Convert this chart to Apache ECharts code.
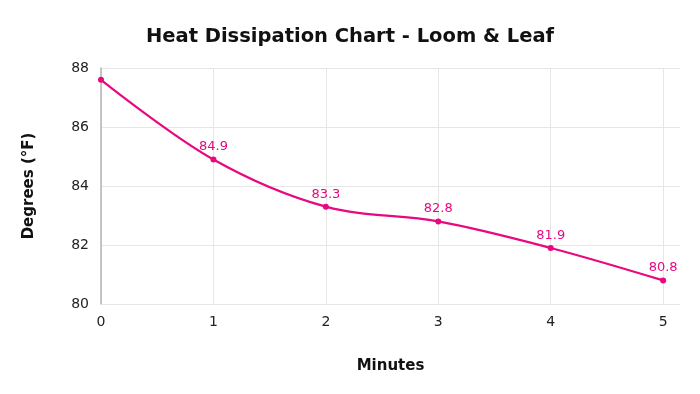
<!DOCTYPE html>
<html><head><meta charset="utf-8">
<script src="https://cdn.jsdelivr.net/npm/echarts@6/dist/echarts.min.js"></script>
<style>html,body{margin:0;padding:0;background:#fff}#c{width:700px;height:394px}</style>
</head><body><div id="c"></div>
<script>
const minutes = [0, 1, 2, 3, 4, 5];
const degrees = [87.6, 84.9, 83.3, 82.8, 81.9, 80.8];
const labelShown = [false, true, true, true, true, true];
const yTicks = [80, 82, 84, 86, 88];

const FONT = '"DejaVu Sans", Verdana, sans-serif';
const PINK = '#e8087f';
const chart = echarts.init(document.getElementById('c'));
chart.setOption({
  animation: false,
  textStyle: {fontFamily: FONT},
  title: {
    text: 'Heat Dissipation Chart - Loom & Leaf',
    left: 'center', top: 22,
    textStyle: {fontFamily: FONT, fontSize: 19.5, fontWeight: 'bold', color: '#111'}
  },
  grid: {left: 101, right: 20, top: 68, bottom: 90},
  xAxis: {
    type: 'value', min: 0, max: 5.15, interval: 1,
    name: 'Minutes', nameLocation: 'middle', nameGap: 55,
    nameTextStyle: {fontFamily: FONT, fontSize: 15, fontWeight: 'bold', color: '#111'},
    axisLine: {show: true, lineStyle: {color: '#e6e6e6'}},
    axisTick: {show: false},
    axisLabel: {showMaxLabel: false, color: '#222', fontSize: 14, margin: 11,
      formatter: v => Number.isInteger(v) ? String(v) : ''},
    splitLine: {show: true, showMaxLine: false, lineStyle: {color: '#e6e6e6'}}
  },
  yAxis: {
    type: 'value', min: yTicks[0], max: yTicks[yTicks.length - 1], interval: 2,
    name: 'Degrees (°F)', nameLocation: 'middle', nameGap: 64,
    nameTextStyle: {fontFamily: FONT, fontSize: 15, fontWeight: 'bold', color: '#111'},
    axisLine: {show: true, lineStyle: {color: '#b5b5b5', width: 1.5}},
    axisTick: {show: false},
    axisLabel: {color: '#222', fontSize: 14, margin: 12},
    splitLine: {show: true, lineStyle: {color: '#e6e6e6'}}
  },
  series: [{
    type: 'line', smooth: 0.35,
    data: minutes.map((m, i) => ({value: [m, degrees[i]], label: {show: labelShown[i]}})),
    symbol: 'circle', symbolSize: 6,
    lineStyle: {color: PINK, width: 2.2},
    itemStyle: {color: PINK},
    label: {position: 'top', color: PINK, fontSize: 13, distance: 3,
      formatter: p => p.value[1].toFixed(1)}
  }]
});
</script></body></html>
